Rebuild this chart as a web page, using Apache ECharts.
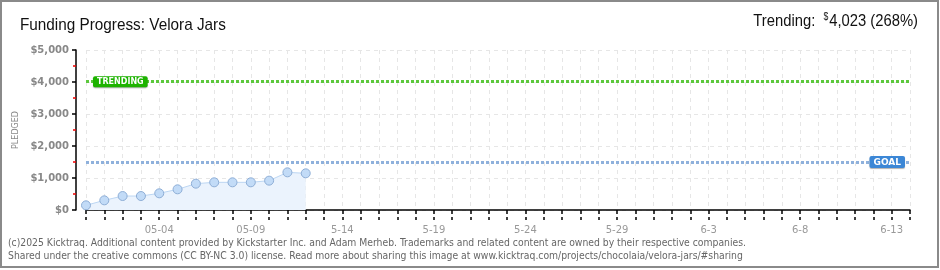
<!DOCTYPE html>
<html>
<head>
<meta charset="utf-8">
<script src="https://cdn.jsdelivr.net/npm/echarts@6/dist/echarts.min.js"></script>
<style>
html,body{margin:0;padding:0;background:#fff;}
#c{width:940px;height:270px;}
</style>
</head>
<body>
<div id="c"></div>
<script>
const categories = ['04-30','05-01','05-02','05-03','05-04','05-05','05-06','05-07','05-08','05-09',
  '05-10','05-11','05-12','05-13','05-14','05-15','05-16','05-17','05-18','05-19',
  '05-20','05-21','05-22','05-23','05-24','05-25','05-26','05-27','05-28','05-29',
  '05-30','05-31','06-01','06-02','06-03','06-04','06-05','06-06','06-07','06-08',
  '06-09','06-10','06-11','06-12','06-13','06-14'];
const pledged = [146, 302, 437, 437, 521, 646, 823, 865, 865, 865, 917, 1177, 1146];
const xTickLabels = ['05-04','05-09','5-14','5-19','5-24','5-29','6-3','6-8','6-13'];
const yTicks = [0, 1000, 2000, 3000, 4000, 5000];
const goal = 1500;
const trending = 4023;
const trendingPct = 268;
const title = 'Funding Progress: Velora Jars';
const footer1 = '(c)2025 Kicktraq. Additional content provided by Kickstarter Inc. and Adam Merheb. Trademarks and related content are owned by their respective companies.';
const footer2 = 'Shared under the creative commons (CC BY-NC 3.0) license. Read more about sharing this image at www.kicktraq.com/projects/chocolaia/velora-jars/#sharing';

const chart = echarts.init(document.getElementById('c'), null, {renderer:'canvas'});
const fmtMoney = v => '$' + v.toLocaleString('en-US');
const xLabelFmt = (v, i) => ((i - 4) % 5 === 0 && i >= 4) ? xTickLabels[(i - 4) / 5] : '';

const baseX = {
  type: 'category', data: categories, boundaryGap: false, position: 'bottom', offset: 10
};

chart.setOption({
  animation: false,
  grid: {left: 86, right: 30, top: 50, bottom: 60, containLabel: false},
  graphic: [
    {type: 'rect', shape: {x: 1, y: 1, width: 937, height: 266}, style: {fill: 'none', stroke: '#8a8a8a', lineWidth: 2}, silent: true, z: 100},
    {type: 'text', x: 20, y: 25, scaleX: 0.9, style: {
      text: title, fontFamily: 'Liberation Sans', fontSize: 17, fill: '#111', verticalAlign: 'middle', align: 'left'}},
    {type: 'text', x: 918, y: 21, scaleX: 0.87, style: {
      text: '{a|Trending:  }{s|$}{a|' + trending.toLocaleString('en-US') + ' (' + trendingPct + '%)}',
      align: 'right', verticalAlign: 'middle',
      rich: {
        a: {fontFamily: 'Liberation Sans', fontSize: 17, fill: '#111'},
        s: {fontFamily: 'Liberation Sans', fontSize: 10, fill: '#111', verticalAlign: 'top', padding: [0,1,8,0]}
      }
    }},
    {type: 'text', x: 8, y: 243, style: {text: footer1, fontFamily: 'DejaVu Sans Condensed', fontSize: 10.3, fill: '#666', verticalAlign: 'middle'}},
    {type: 'text', x: 8, y: 256, style: {text: footer2, fontFamily: 'DejaVu Sans Condensed', fontSize: 10.3, fill: '#666', verticalAlign: 'middle'}}
  ],
  xAxis: [
    Object.assign({}, baseX, {
      axisLine: {show: true, lineStyle: {color: '#000', width: 1.5}},
      axisTick: {show: true, length: 4, interval: 0, lineStyle: {color: '#000', width: 1.5}},
      axisLabel: {interval: 0, formatter: xLabelFmt, color: '#999', fontFamily: 'DejaVu Sans', fontSize: 10, margin: 5},
      splitLine: {show: true, interval: 0, lineStyle: {color: '#e6e6e6', type: [4, 4], width: 1}}
    }),
    Object.assign({}, baseX, {
      axisLine: {show: false},
      axisTick: {show: true, inside: true, length: 3, interval: 0, lineStyle: {color: '#000', width: 1.5}},
      axisLabel: {show: false},
      splitLine: {show: false}
    })
  ],
  yAxis: {
    type: 'value', min: yTicks[0], max: yTicks[yTicks.length - 1], interval: 1000, offset: 10,
    name: 'PLEDGED', nameLocation: 'middle', nameGap: 54, nameRotate: 90,
    nameTextStyle: {color: '#888', fontFamily: 'DejaVu Sans', fontSize: 8},
    axisLine: {show: true, lineStyle: {color: '#000', width: 1.5}},
    axisTick: {show: true, length: 4, lineStyle: {color: '#000', width: 1.5}},
    minorTick: {show: true, splitNumber: 2, length: 3, lineStyle: {color: '#e00', width: 1.5}},
    axisLabel: {formatter: fmtMoney, color: '#888', fontFamily: 'DejaVu Sans', fontSize: 10, fontWeight: 'bold', margin: 7},
    splitLine: {show: true, lineStyle: {color: '#e6e6e6', type: [4, 4], width: 1}}
  },
  series: [{
    type: 'line', data: pledged, xAxisIndex: 0,
    symbol: 'circle', symbolSize: 9,
    lineStyle: {color: '#bcd6f3', width: 1},
    itemStyle: {color: '#c2dbf7', borderColor: '#8eaed6', borderWidth: 1},
    areaStyle: {color: '#ebf3fd', opacity: 1},
    z: 3,
    markLine: {
      silent: true, symbol: 'none', animation: false,
      data: [
        {yAxis: trending, lineStyle: {color: '#5cc83c', type: [3, 2], width: 3},
          label: {show: true, formatter: 'TRENDING', position: 'insideStartTop', distance: 0, offset: [7, 6],
            backgroundColor: '#1db300', color: '#fff', fontFamily: 'DejaVu Sans', fontSize: 8, fontWeight: 'bold',
            padding: [2, 4, 1, 4], borderRadius: 2, shadowColor: 'rgba(0,0,0,0.3)', shadowBlur: 1, shadowOffsetY: 1}},
        {yAxis: goal, lineStyle: {color: '#8fb1dc', type: [3, 2], width: 3},
          label: {show: true, formatter: 'GOAL', position: 'insideEndTop', distance: 0, offset: [-5, 6],
            backgroundColor: '#3c87d6', color: '#fff', fontFamily: 'DejaVu Sans', fontSize: 9, fontWeight: 'bold',
            padding: [2, 4, 1, 4], borderRadius: 2, shadowColor: 'rgba(0,0,0,0.3)', shadowBlur: 1, shadowOffsetY: 1}}
      ]
    }
  }]
});
</script>
</body>
</html>
